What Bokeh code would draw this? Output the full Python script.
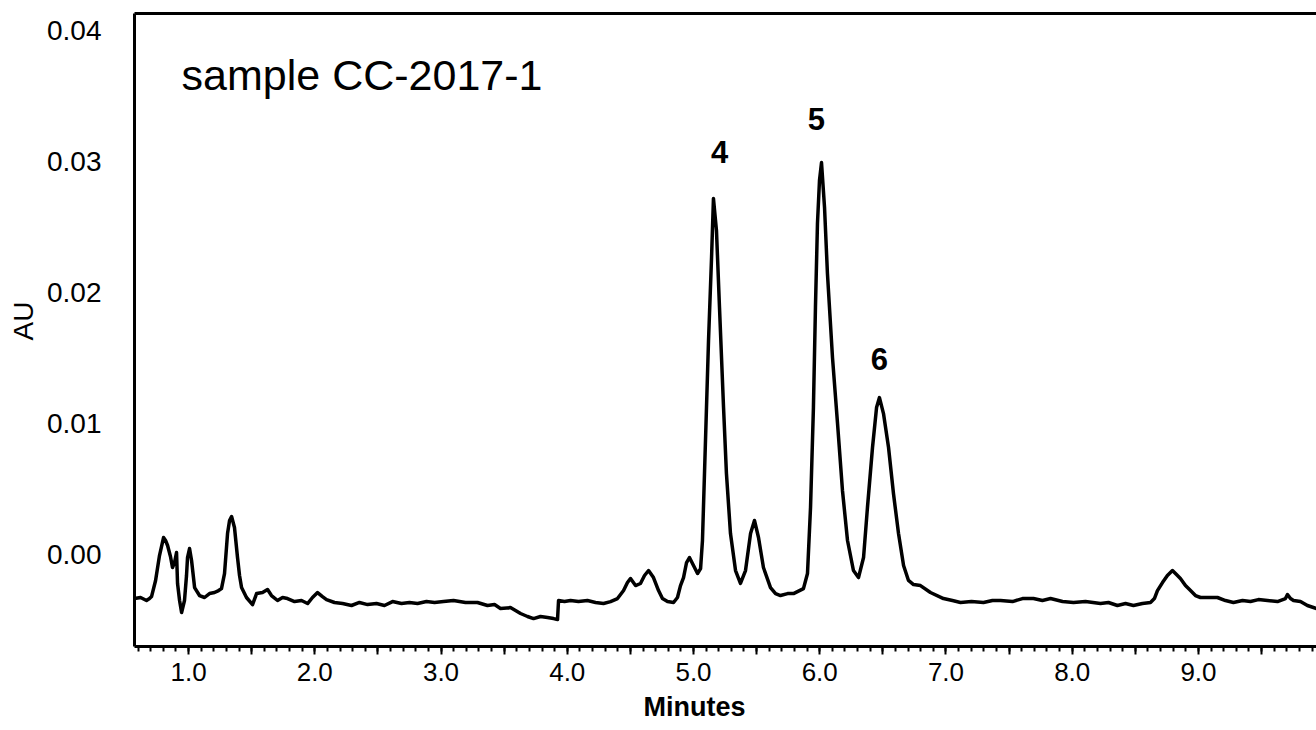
from bokeh.plotting import figure
from bokeh.models import FixedTicker, LinearAxis, Range1d, ColumnDataSource, Title
from bokeh.core.properties import value
from bokeh.embed import file_html
from bokeh.resources import INLINE

# ---------------- data ----------------
time_min = [
    0.572, 0.620, 0.667, 0.691, 0.707, 0.739, 0.770, 0.802, 0.818, 0.834, 0.857, 0.873, 0.889, 0.905, 0.913, 0.929,
    0.945, 0.968, 0.984, 0.992, 1.008, 1.024, 1.048, 1.087, 1.127, 1.166, 1.206, 1.238, 1.261, 1.285, 1.309, 1.325,
    1.341, 1.364, 1.388, 1.404, 1.420, 1.459, 1.507, 1.539, 1.586, 1.626, 1.657, 1.705, 1.745, 1.784, 1.840, 1.895,
    1.943, 1.982, 2.022, 2.061, 2.093, 2.156, 2.220, 2.291, 2.354, 2.418, 2.489, 2.552, 2.616, 2.687, 2.750, 2.814,
    2.885, 2.949,
    3.020, 3.099, 3.194, 3.289, 3.368, 3.424, 3.471, 3.550, 3.590, 3.630, 3.685, 3.733, 3.788, 3.844, 3.891, 3.923,
    3.931, 3.978, 4.026, 4.089, 4.160, 4.224, 4.287, 4.343, 4.398, 4.446, 4.477, 4.501, 4.541, 4.580, 4.612, 4.644,
    4.683, 4.723, 4.754, 4.794, 4.842, 4.873, 4.897, 4.921, 4.945, 4.968, 5.000, 5.032, 5.056, 5.071, 5.095, 5.119,
    5.143, 5.158, 5.182, 5.206, 5.238, 5.261, 5.293, 5.333, 5.372, 5.412, 5.452, 5.483, 5.515, 5.554, 5.610, 5.650,
    5.689, 5.745, 5.792, 5.871, 5.903, 5.927, 5.950, 5.966, 5.982, 5.998, 6.014, 6.038, 6.061, 6.101, 6.141, 6.180,
    6.220, 6.267, 6.307, 6.347, 6.378, 6.418, 6.450, 6.473, 6.505, 6.545, 6.584, 6.624, 6.664, 6.703, 6.743, 6.798,
    6.877, 6.980, 7.051, 7.115, 7.202, 7.297, 7.368, 7.432, 7.527, 7.606, 7.693, 7.764, 7.828, 7.923, 8.010, 8.105,
    8.224, 8.287, 8.358, 8.422, 8.485, 8.556, 8.620, 8.651, 8.675, 8.715, 8.754, 8.794, 8.826, 8.857, 8.897, 8.937,
    8.976, 9.016, 9.079, 9.150, 9.214, 9.277, 9.349, 9.412, 9.475, 9.547, 9.626, 9.689, 9.705, 9.729, 9.753, 9.808,
    9.863, 9.935,
]

# absorbance in milli-AU
absorbance_mau = [
    -3.36, -3.28, -3.51, -3.36, -3.21, -1.98, -0.08, 1.30, 1.07, 0.69, -0.15, -0.99, -0.61, 0.15, -2.21, -3.51,
    -4.43, -3.51, -1.60, -0.23, 0.46, -0.46, -2.52, -3.13, -3.28, -2.98, -2.90, -2.75, -2.60, -1.45, 1.60, 2.60,
    2.90, 2.06, -0.23, -1.60, -2.52, -3.28, -3.82, -2.98, -2.90, -2.67, -3.13, -3.51, -3.28, -3.36, -3.59, -3.51,
    -3.74, -3.28, -2.90, -3.21, -3.44, -3.66, -3.74, -3.89, -3.66, -3.82, -3.74, -3.89, -3.59, -3.74, -3.66, -3.74,
    -3.59, -3.66,
    -3.59, -3.51, -3.66, -3.66, -3.89, -3.82, -4.12, -4.05, -4.27, -4.50, -4.73, -4.89, -4.73, -4.81, -4.89, -4.96,
    -3.51, -3.59, -3.51, -3.59, -3.51, -3.66, -3.74, -3.59, -3.36, -2.75, -2.14, -1.83, -2.37, -2.21, -1.60, -1.22,
    -1.76, -2.75, -3.36, -3.59, -3.66, -3.28, -2.37, -1.76, -0.61, -0.23, -0.84, -1.45, -1.07, 1.07, 8.70, 16.34,
    22.67, 27.18, 24.73, 18.85, 11.22, 6.18, 1.60, -1.22, -2.21, -1.22, 1.60, 2.60, 1.30, -0.99, -2.52, -2.98,
    -3.13, -2.98, -2.98, -2.60, -1.45, 3.59, 11.22, 18.85, 25.27, 28.55, 29.92, 26.49, 21.45, 15.04, 10.00, 4.89,
    1.07, -1.22, -1.76, -0.23, 3.59, 8.17, 11.22, 11.98, 10.76, 8.17, 4.66, 1.60, -0.84, -1.98, -2.29, -2.37,
    -2.90, -3.36, -3.51, -3.66, -3.59, -3.66, -3.51, -3.51, -3.59, -3.36, -3.36, -3.51, -3.36, -3.59, -3.66, -3.59,
    -3.74, -3.66, -3.89, -3.74, -3.89, -3.74, -3.66, -3.36, -2.75, -2.14, -1.60, -1.22, -1.53, -1.83, -2.37, -2.75,
    -3.13, -3.28, -3.28, -3.28, -3.51, -3.66, -3.51, -3.59, -3.44, -3.51, -3.59, -3.36, -3.05, -3.36, -3.51, -3.59,
    -3.89, -4.12,
]

peak_labels = ["4", "5", "6"]
peak_label_time = [5.206, 5.974, 6.473]
peak_label_au = [0.02985, 0.03237, 0.01405]

x_tick_values = [0.5, 1.0, 1.5, 2.0, 2.5, 3.0, 3.5, 4.0, 4.5, 5.0, 5.5, 6.0, 6.5, 7.0, 7.5, 8.0, 8.5, 9.0, 9.5]
x_tick_labels = ["", "1.0", "", "2.0", "", "3.0", "", "4.0", "", "5.0", "", "6.0", "", "7.0", "", "8.0", "", "9.0", ""]
y_tick_values = [0.0, 0.01, 0.02, 0.03, 0.04]
y_tick_labels = ["0.00", "0.01", "0.02", "0.03", "0.04"]

sample_name = "sample CC-2017-1"

# ---------------- figure ----------------
FONT = "Liberation Sans"
au = [m / 1000.0 for m in absorbance_mau]
src = ColumnDataSource(data=dict(t=time_min, au=au))

p = figure(width=1316, height=730,
           x_range=Range1d(0.572, 9.935), y_range=Range1d(-0.00702, 0.0413),
           output_backend="svg", toolbar_location=None,
           min_border_left=134, min_border_right=0, min_border_top=13, min_border_bottom=84)
p.outline_line_color = None
p.grid.visible = False
p.background_fill_color = "white"
p.border_fill_color = "white"

p.line("t", "au", source=src, line_color="black", line_width=3.5, line_join="round")

# x axis
xa = p.xaxis[0]
minor = [round(0.5 + 0.1 * i, 1) for i in range(0, 96)]
xa.ticker = FixedTicker(ticks=x_tick_values, minor_ticks=minor)
xa.major_label_overrides = {v: l for v, l in zip(x_tick_values, x_tick_labels)}
xa.axis_line_width = 3
xa.axis_line_color = "black"
xa.major_tick_line_width = 2
xa.minor_tick_line_width = 2
xa.major_tick_out = 8
xa.major_tick_in = 0
xa.minor_tick_out = 5
xa.minor_tick_in = 0
xa.major_label_text_font = FONT
xa.major_label_text_font_size = "26px"
xa.major_label_text_color = "black"
xa.major_label_standoff = 8

# y axis
ya = p.yaxis[0]
ya.ticker = FixedTicker(ticks=y_tick_values)
ya.major_label_overrides = {v: l for v, l in zip(y_tick_values, y_tick_labels)}
ya.axis_line_width = 3
ya.axis_line_color = "black"
ya.major_tick_out = 0
ya.major_tick_in = 0
ya.minor_tick_out = 0
ya.minor_tick_in = 0
ya.major_label_text_font = FONT
ya.major_label_text_font_size = "28px"
ya.major_label_text_color = "black"
ya.major_label_standoff = 33

# y axis title
p.add_layout(Title(text="AU", align="left", offset=306, text_font=FONT, text_font_size="28px",
                   text_font_style="normal", text_color="black", standoff=11), "left")

# top frame line
top = LinearAxis(ticker=FixedTicker(ticks=[]), axis_line_width=3, axis_line_color="black",
                 major_tick_out=0, minor_tick_out=0, major_label_text_font_size="0px")
p.add_layout(top, "above")

# x axis title
p.add_layout(Title(text="Minutes", align="left", offset=509, text_font=FONT, text_font_size="27px",
                   text_font_style="bold", text_color="black", standoff=13), "below")

# annotations
p.text(x=[0.945], y=[0.0358], text=[sample_name], text_font=value(FONT), text_font_size="43px",
       text_align="left", text_baseline="alphabetic", text_color="black", y_offset=-11)
p.text(x=peak_label_time, y=peak_label_au, text=peak_labels, text_font=value(FONT), text_font_size="31px",
       text_font_style="bold", text_align="center", text_baseline="alphabetic", text_color="black", y_offset=-11)

open("out.html", "w").write(file_html(p, INLINE))
